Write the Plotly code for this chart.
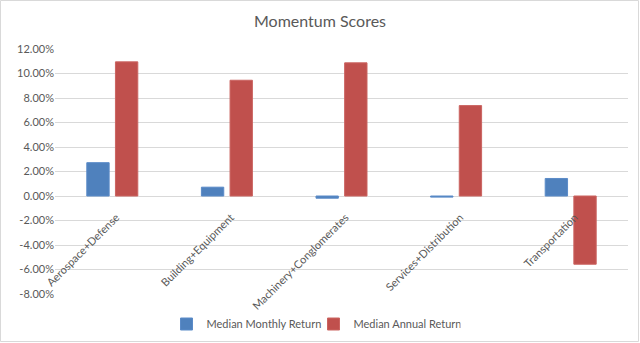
import plotly.graph_objects as go

categories = ["Aerospace+Defense", "Building+Equipment", "Machinery+Conglomerates",
              "Services+Distribution", "Transportation"]
monthly_return = [2.72, 0.72, -0.18, -0.09, 1.43]
annual_return = [10.95, 9.45, 10.87, 7.38, -5.57]
tick_vals = [-8, -6, -4, -2, 0, 2, 4, 6, 8, 10, 12]
tick_text = [f"{v:.2f}%" for v in tick_vals]
y_range = [-8, 12]

W, H = 640, 343
ml, mr, mt, mb = 55, 12, 49, 49
pw, ph = W - ml - mr, H - mt - mb

fig = go.Figure()
fig.add_trace(go.Bar(x=categories, y=monthly_return, name="Median Monthly Return",
                     marker=dict(color="#4F81BD", line=dict(color="#5B8BC8", width=1))))
fig.add_trace(go.Bar(x=categories, y=annual_return, name="Median Annual Return",
                     marker=dict(color="#C0504D", line=dict(color="#CB6461", width=1))))

zero_frac = (0 - y_range[0]) / (y_range[1] - y_range[0])

fig.update_layout(
    width=W, height=H,
    margin=dict(l=ml, r=mr, t=mt, b=mb, autoexpand=False),
    paper_bgcolor="white", plot_bgcolor="white",
    barmode="group", bargap=0.5, bargroupgap=0.22,
    font=dict(family="Lato, Open Sans, sans-serif", color="#595959", size=11),
    title=dict(text="Momentum Scores", x=0.5, xanchor="center", y=1 - 21 / H, yanchor="middle",
               font=dict(size=16, color="#595959")),
    showlegend=True,
    legend=dict(orientation="h", x=0.5 - 28 / pw, xanchor="center", y=-(324 - mt - ph) / ph,
                yanchor="middle", font=dict(size=11, color="#595959"), traceorder="normal",
                itemwidth=30, entrywidth=102, entrywidthmode="pixels"),
    xaxis=dict(tickangle=-45, showgrid=False, showline=False, ticks="", automargin=False,
               anchor="free", position=zero_frac, ticklabelstandoff=12, ticklabelshift=4,
               tickfont=dict(size=11, color="#595959")),
    yaxis=dict(range=y_range, tickvals=tick_vals, ticktext=tick_text, showgrid=True,
               gridcolor="#D9D9D9", zeroline=True, zerolinecolor="#D9D9D9", zerolinewidth=1,
               showline=False, ticks="", automargin=False, tickfont=dict(size=11, color="#595959")),
    shapes=[dict(type="rect", xref="paper", yref="paper",
                 x0=-(ml - 0.5) / pw, x1=1 + (mr - 1.5) / pw,
                 y0=-(mb - 1.5) / ph, y1=1 + (mt - 0.5) / ph,
                 line=dict(color="#D9D9D9", width=1), layer="below")],
)

fig.write_html("out.html")
